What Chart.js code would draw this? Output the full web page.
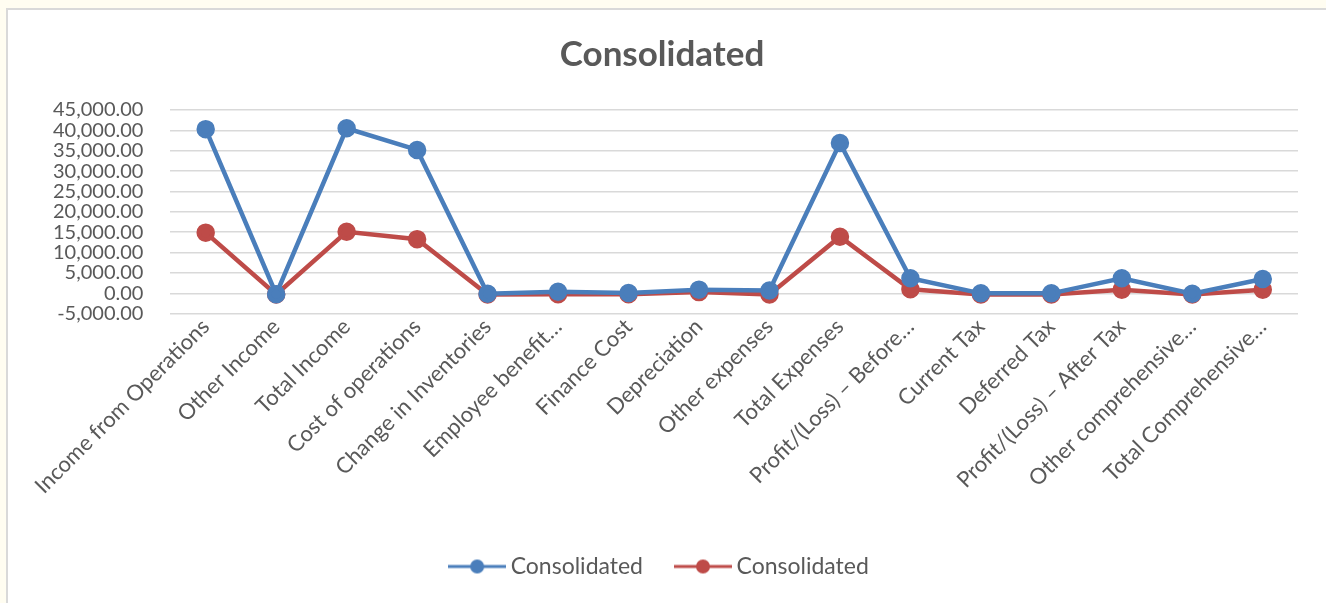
<!DOCTYPE html>
<html>
<head>
<meta charset="utf-8">
<script src="https://cdn.jsdelivr.net/npm/chart.js@4.4.1/dist/chart.umd.min.js"></script>
<style>
  html, body { margin: 0; padding: 0; background: #fffdf1; overflow: hidden; }
  #frame { position: absolute; left: 6px; top: 8px; width: 1330px; height: 610px; background: #fff; border-left: 2px solid #d9d9d9; border-top: 2px solid #d9d9d9; }
  #wrap { position: absolute; left: 0; top: 0; width: 1326px; height: 603px; }
</style>
</head>
<body>
<div id="frame"></div>
<div id="wrap"><canvas id="chart"></canvas></div>
<script>
/* ===== Consolidated line chart ===== */
const categories = [
  "Income from Operations", "Other Income", "Total Income", "Cost of operations",
  "Change in Inventories", "Employee benefit…", "Finance Cost", "Depreciation",
  "Other expenses", "Total Expenses", "Profit/(Loss) – Before…", "Current Tax",
  "Deferred Tax", "Profit/(Loss) – After Tax", "Other comprehensive…", "Total Comprehensive…",
];
const seriesA = [40300, -200, 40500, 35200, -100, 400, 100, 900, 700, 36900, 3700, 0, 0, 3700, -100, 3500];
const seriesB = [14900, -300, 15100, 13300, -300, -200, -200, 300, -300, 13900, 1000, -300, -300, 900, -300, 900];
const seriesNames = ["Consolidated", "Consolidated"];
const yMin = -5000, yMax = 45000, yStep = 5000;

const textColor = "#595959";
const fontFamily = "Lato, 'Open Sans', sans-serif";
const blue = "#4a7ebb";
const red = "#be4b48";

// legend marker: line with dot in the middle (wider than its box so the text sits close)
function legendMarker(color) {
  const c = document.createElement("canvas");
  c.width = 58; c.height = 16;
  const g = c.getContext("2d");
  g.strokeStyle = color; g.lineWidth = 3;
  g.beginPath(); g.moveTo(0, 8); g.lineTo(58, 8); g.stroke();
  g.fillStyle = color;
  g.beginPath(); g.arc(29, 8, 7, 0, Math.PI * 2); g.fill();
  return c;
}

const lineStyle = (color) => ({
  borderColor: color,
  backgroundColor: color,
  pointBackgroundColor: color,
  pointBorderColor: color,
  pointRadius: 7,
  pointHoverRadius: 7,
  borderWidth: 4.5,
  tension: 0,
  fill: false,
  pointStyle: "circle",
});

new Chart(document.getElementById("chart"), {
  type: "line",
  data: {
    labels: categories,
    datasets: [
      { label: seriesNames[0], data: seriesA, ...lineStyle(blue), legendMarker: legendMarker(blue) },
      { label: seriesNames[1], data: seriesB, ...lineStyle(red), legendMarker: legendMarker(red) },
    ],
  },
  options: {
    responsive: true,
    maintainAspectRatio: false,
    animation: false,
    layout: { padding: { left: 26, right: 28, top: 0, bottom: 15 } },
    plugins: {
      title: {
        display: true,
        text: "Consolidated",
        color: textColor,
        font: { family: fontFamily, size: 35, weight: "bold" },
        padding: { top: 34, bottom: 34 },
      },
      legend: {
        position: "bottom",
        labels: {
          color: textColor,
          font: { family: fontFamily, size: 23 },
          usePointStyle: true,
          pointStyleWidth: 44,
          padding: 38,
          generateLabels: (chart) => chart.data.datasets.map((ds, i) => ({
            text: ds.label,
            fontColor: textColor,
            pointStyle: ds.legendMarker,
            datasetIndex: i,
            lineWidth: 0,
            strokeStyle: "transparent",
            fillStyle: "transparent",
          })),
        },
      },
      tooltip: { enabled: false },
    },
    scales: {
      x: {
        offset: true,
        grid: { display: false, drawTicks: false },
        border: { display: false },
        afterFit: (scale) => { scale.height += 18; },
        ticks: {
          color: textColor,
          font: { family: fontFamily, size: 22 },
          minRotation: 45,
          maxRotation: 45,
          autoSkip: false,
          padding: 0,
        },
      },
      y: {
        min: yMin,
        max: yMax,
        grid: { color: "#d9d9d9", lineWidth: 1.5, drawTicks: false },
        border: { display: false },
        ticks: {
          stepSize: yStep,
          autoSkip: false,
          color: textColor,
          font: { family: fontFamily, size: 20 },
          padding: 27,
          callback: (v) => v.toLocaleString("en-US", { minimumFractionDigits: 2, maximumFractionDigits: 2 }),
        },
      },
    },
  },
});
</script>
</body>
</html>
